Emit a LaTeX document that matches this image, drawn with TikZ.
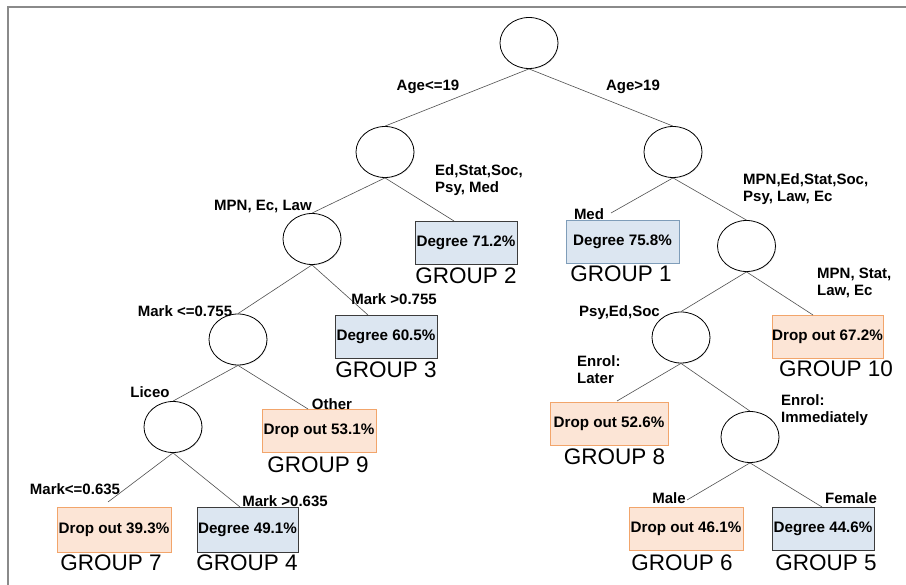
\documentclass[tikz,border=0pt]{standalone}
\usepackage{fontspec}
\setmainfont{Liberation Sans}
\usetikzlibrary{shapes.geometric,shadows}
\definecolor{bfill}{HTML}{DCE6F1}
\definecolor{bdraw}{HTML}{3C3C3C}
\definecolor{bdrawb}{HTML}{7F9DB9}
\definecolor{ofill}{HTML}{FCE5D6}
\definecolor{odraw}{HTML}{F2A56B}
\definecolor{framec}{HTML}{8A8A8A}
\definecolor{edgec}{HTML}{505050}
\tikzset{
  split/.style={ellipse,draw=black,line width=0.8pt,fill=white,minimum width=58pt,minimum height=51pt,inner sep=0pt,
     drop shadow={opacity=0.18,shadow xshift=0.8pt,shadow yshift=-0.8pt}},
  leafbox/.style={rectangle,line width=0.9pt,minimum height=43pt,inner sep=0pt,
     font=\fontsize{15.2}{17}\selectfont\bfseries,text height=0.72em,text depth=0pt,
     drop shadow={opacity=0.2,shadow xshift=1pt,shadow yshift=-1pt}},
  degbox/.style={leafbox,fill=bfill,draw=bdraw},
  degboxb/.style={leafbox,fill=bfill,draw=bdrawb},
  dropbox/.style={leafbox,fill=ofill,draw=odraw},
  elabel/.style={inner sep=0pt,anchor=base,font=\fontsize{15}{17}\selectfont\bfseries},
  mlabel/.style={inner sep=0pt,anchor=base west,align=left,font=\fontsize{15}{17}\selectfont\bfseries},
  glabel/.style={inner sep=0pt,anchor=base,font=\fontsize{22.5}{24}\selectfont},
  edge/.style={draw=edgec,line width=0.6pt}
}
\begin{document}
\begin{tikzpicture}[x=1pt,y=-1pt]
\useasboundingbox (0,0) rectangle (906,585);
\fill[white] (0,0) rectangle (906,585);
\draw[framec,line width=2pt] (8,7) rectangle (930,610);

% split nodes
\node[split] (root) at (529,43) {};
\node[split] (l1) at (385,152) {};
\node[split] (r1) at (673,152) {};
\node[split] (n3) at (312,239) {};
\node[split] (n4) at (238,339.5) {};
\node[split] (n5) at (173,427) {};
\node[split] (r2) at (746.5,246) {};
\node[split] (r3) at (681,337.5) {};
\node[split] (r4) at (750,437) {};

% leaf boxes
\node[degbox,minimum width=102pt] (b2) at (466,242.5) {Degree 71.2\%};
\node[degboxb,minimum width=113pt] (b1) at (622.5,242) {Degree 75.8\%};
\node[degbox,minimum width=102pt] (b3) at (386,336.5) {Degree 60.5\%};
\node[dropbox,minimum width=111pt] (b10) at (827.5,336.5) {Drop out 67.2\%};
\node[dropbox,minimum width=114pt] (b9) at (319,430.5) {Drop out 53.1\%};
\node[dropbox,minimum width=118pt] (b8) at (609,423.5) {Drop out 52.6\%};
\node[dropbox,minimum width=114pt,minimum height=45pt] (b7) at (114,529.5) {Drop out 39.3\%};
\node[degbox,minimum width=101pt,minimum height=45pt] (b4) at (247.5,529.5) {Degree 49.1\%};
\node[dropbox,minimum width=114pt] (b6) at (686,528.5) {Drop out 46.1\%};
\node[degbox,minimum width=102pt] (b5) at (823,528.5) {Degree 44.6\%};

% group labels
\node[glabel] (g2) at (466,284) {GROUP 2};
\node[glabel] (g1) at (621,282) {GROUP 1};
\node[glabel] (g3) at (386,378) {GROUP 3};
\node[glabel] (g10) at (836,377) {GROUP 10};
\node[glabel] (g9) at (318,473) {GROUP 9};
\node[glabel] (g8) at (614.5,465) {GROUP 8};
\node[glabel] (g7) at (111,570) {GROUP 7};
\node[glabel] (g4) at (247,570) {GROUP 4};
\node[glabel] (g6) at (682,570) {GROUP 6};
\node[glabel] (g5) at (826,570) {GROUP 5};

% edge end points
\coordinate (e2) at (454,221);
\coordinate (e1) at (611,213);
\coordinate (e3) at (368,315);
\coordinate (e9) at (308,409);
\coordinate (e7) at (108,502);
\coordinate (e4) at (240,507);
\coordinate (e10) at (813,315);
\coordinate (e8) at (617,401);
\coordinate (e6) at (687,500);
\coordinate (e5) at (822,507);

% connectors
\draw[edge] (root.south) -- (l1.north);
\draw[edge] (root.south) -- (r1.north);
\draw[edge] (l1.south) -- (n3.north);
\draw[edge] (l1.south) -- (e2);
\draw[edge] (n3.south) -- (n4.north);
\draw[edge] (n3.south) -- (e3);
\draw[edge] (n4.south) -- (n5.north);
\draw[edge] (n4.south) -- (e9);
\draw[edge] (n5.south) -- (e7);
\draw[edge] (n5.south) -- (e4);
\draw[edge] (r1.south) -- (e1);
\draw[edge] (r1.south) -- (r2.north);
\draw[edge] (r2.south) -- (r3.north);
\draw[edge] (r2.south) -- (e10);
\draw[edge] (r3.south) -- (e8);
\draw[edge] (r3.south) -- (r4.north);
\draw[edge] (r4.south) -- (e6);
\draw[edge] (r4.south) -- (e5);

% edge labels
\node[elabel] (la1) at (428,90.4) {Age<=19};
\node[elabel] (la2) at (633,90.4) {Age>19};
\node[elabel] (la3) at (263,210.4) {MPN, Ec, Law};
\node[mlabel] (la4) at (435,192.4) {Ed,Stat,Soc,\\Psy, Med};
\node[elabel] (la5) at (589,219.4) {Med};
\node[mlabel] (la6) at (743,201.4) {MPN,Ed,Stat,Soc,\\Psy, Law, Ec};
\node[elabel] (la7) at (394,304.4) {Mark >0.755};
\node[elabel] (la8) at (185,316.4) {Mark <=0.755};
\node[mlabel] (la9) at (817,295.4) {MPN, Stat,\\Law, Ec};
\node[elabel] (la10) at (619.5,316.4) {Psy,Ed,Soc};
\node[elabel] (la11) at (150,397.4) {Liceo};
\node[elabel] (la12) at (332,409.4) {Other};
\node[mlabel] (la13) at (577,383.4) {Enrol:\\Later};
\node[mlabel] (la14) at (781,422.4) {Enrol:\\Immediately};
\node[elabel] (la15) at (75,494.4) {Mark<=0.635};
\node[elabel] (la16) at (285,506.4) {Mark >0.635};
\node[elabel] (la17) at (669,503.4) {Male};
\node[elabel] (la18) at (851,503.4) {Female};
\end{tikzpicture}
\end{document}
